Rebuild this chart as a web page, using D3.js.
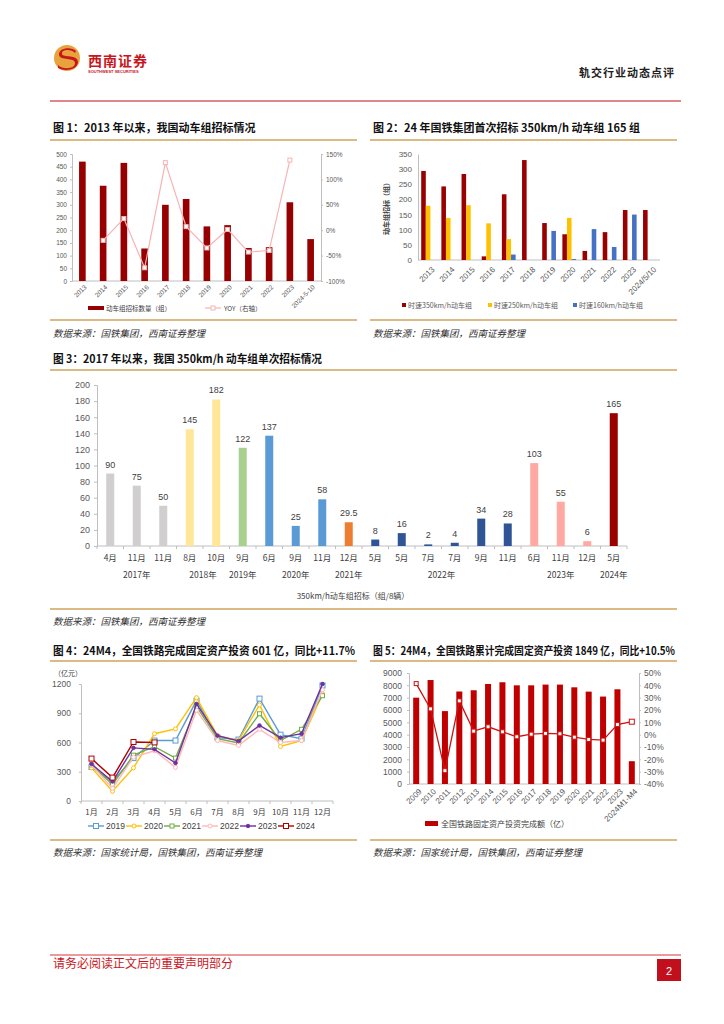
<!DOCTYPE html>
<html>
<head>
<meta charset="utf-8">
<script src="https://cdn.jsdelivr.net/npm/d3@7"></script>
<style>
  body { margin: 0; background: #fff; }
</style>
</head>
<body>
<div id="page"></div>
<script>
// ---- data ----
// fig 1
var years1 = ['2013', '2014', '2015', '2016', '2017', '2018', '2019', '2020', '2021', '2022', '2023', '2024-5-10'];
var emuTotal = [470, 375, 465, 128, 300, 323, 215, 220, 130, 133, 310, 165];
var emuYoy = [null, -20, 23, -74, 133, 7, -35, 1.5, -43, -40, 138, null];
var ticks1Left = [0, 50, 100, 150, 200, 250, 300, 350, 400, 450, 500];
var ticks1Right = [-100, -50, 0, 50, 100, 150];

// fig 2
var years2 = ['2013', '2014', '2015', '2016', '2017', '2018', '2019', '2020', '2021', '2022', '2023', '2024/5/10'];
var speed350 = [294, 243, 284, 12, 217, 330, 122, 85, 30, 92, 165, 165];
var speed250 = [179, 139, 181, 121, 69, 0, 0, 139, 0, 0, 0, 0];
var speed160 = [0, 0, 0, 0, 18, 0, 96, 3, 102, 43, 150, 0];
var seriesNames2 = ['时速350km/h动车组', '时速250km/h动车组', '时速160km/h动车组'];
var ticks2 = [0, 50, 100, 150, 200, 250, 300, 350];

// fig 3
var bidMonths = ['4月', '11月', '11月', '8月', '10月', '9月', '6月', '9月', '11月', '12月', '5月', '5月', '7月', '7月', '9月', '11月', '6月', '11月', '12月', '5月'];
var bidYears = ['2017年', '2017年', '2017年', '2018年', '2018年', '2019年', '2020年', '2020年', '2020年', '2021年',
                '2022年', '2022年', '2022年', '2022年', '2022年', '2022年', '2023年', '2023年', '2023年', '2024年'];
var bidSets = [90, 75, 50, 145, 182, 122, 137, 25, 58, 29.5, 8, 16, 2, 4, 34, 28, 103, 55, 6, 165];
var ticks3 = [0, 20, 40, 60, 80, 100, 120, 140, 160, 180, 200];

// fig 4
var months = ['1月', '2月', '3月', '4月', '5月', '6月', '7月', '8月', '9月', '10月', '11月', '12月'];
var inv2019 = [350, 200, 440, 620, 620, 1030, 650, 630, 1050, 680, 640, 1185];
var inv2020 = [340, 100, 340, 690, 740, 1060, 670, 620, 985, 560, 620, 1100];
var inv2021 = [370, 170, 470, 557, 440, 970, 640, 595, 895, 620, 735, 1080];
var inv2022 = [370, 130, 450, 515, 345, 930, 620, 570, 735, 600, 620, 1140];
var inv2023 = [380, 200, 545, 530, 390, 995, 670, 615, 775, 650, 690, 1200];
var inv2024 = [435, 240, 605, 601];
var ticks4 = [0, 300, 600, 900, 1200];

// fig 5
var years5 = ['2009', '2010', '2011', '2012', '2013', '2014', '2015', '2016', '2017', '2018', '2019', '2020', '2021', '2022', '2023', '2024M1-M4'];
var railInv = [7000, 8430, 5910, 7500, 7600, 8110, 8250, 8000, 8000, 8060, 8060, 7840, 7490, 7090, 7680, 1849];
var railYoy = [41.4, 20.9, -29.2, 27.4, 2.9, 6.4, 2.3, -1.7, 0.4, 1.0, 0.7, -2.0, -3.9, -4.4, 8.2, 10.5];
var ticks5Left = [0, 1000, 2000, 3000, 4000, 5000, 6000, 7000, 8000, 9000];
var ticks5Right = [-40, -30, -20, -10, 0, 10, 20, 30, 40, 50];

// ---- page ----
var CN = '"Noto Sans CJK SC", sans-serif';
var NUM = '"Liberation Sans", Arial, "Noto Sans CJK SC", sans-serif';
var GOLD = '#cfa35a';
var plain = d3.format('d');

var svg = d3.select('#page').append('svg')
    .attr('width', 724)
    .attr('height', 1024)
    .style('background', '#fff');

// header
var logo = svg.append('g').attr('transform', 'translate(67, 58)');
logo.append('circle').attr('r', 13).style('fill', '#e8a33c');
logo.append('path')
    .attr('d', 'M 9,-7 C 4,-12 -9,-10 -8,-3 C -7,3 8,-1 8,5 C 8,11 -4,12 -9,7 L -9,10 C -3,14 11,12 11,4 C 11,-4 -4,0 -5,-4 C -6,-9 5,-9 8,-5 Z')
    .style('fill', '#c8161d');
svg.append('text')
    .attr('x', 88).attr('y', 66)
    .text('西南证券')
    .attr('font-family', CN)
    .attr('font-size', '14px')
    .attr('font-weight', 'bold')
    .attr('letter-spacing', '1px')
    .attr('fill', '#c8161d');
svg.append('text')
    .attr('x', 88).attr('y', 73)
    .text('SOUTHWEST SECURITIES')
    .attr('font-family', NUM)
    .attr('font-size', '4px')
    .attr('font-weight', 'bold')
    .attr('fill', '#c8161d');
svg.append('text')
    .attr('x', 675).attr('y', 77)
    .text('轨交行业动态点评')
    .attr('font-family', CN)
    .attr('font-size', '11px')
    .attr('font-weight', 'bold')
    .attr('letter-spacing', '1px')
    .attr('fill', '#222')
    .style('text-anchor', 'end');
svg.append('line')
    .attr('x1', 50).attr('x2', 681).attr('y1', 101).attr('y2', 101)
    .style('stroke', '#e0878a').style('stroke-width', 2);

// footer
svg.append('line')
    .attr('x1', 50).attr('x2', 681).attr('y1', 955).attr('y2', 955)
    .style('stroke', '#d9343a').style('stroke-width', 1);
svg.append('text')
    .attr('x', 53).attr('y', 968)
    .text('请务必阅读正文后的重要声明部分')
    .attr('font-family', CN)
    .attr('font-size', '12px')
    .attr('fill', '#c8161d');
svg.append('rect')
    .attr('x', 657).attr('y', 959).attr('width', 24).attr('height', 22)
    .style('fill', '#c20f1e');
svg.append('text')
    .attr('x', 669).attr('y', 975)
    .text('2')
    .attr('font-family', NUM)
    .attr('font-size', '11px')
    .attr('fill', '#fff')
    .style('text-anchor', 'middle');

// panel frame: title, gold lines, source note
function panel(x0, x1, titleY, topLine, bottomLine, srcY, title, src, titleLen) {
    var t = svg.append('text')
        .attr('x', x0 + 3).attr('y', titleY)
        .text(title)
        .attr('font-family', CN)
        .attr('font-size', '11px')
        .attr('font-weight', 'bold')
        .attr('fill', '#111');
    if (titleLen) t.attr('textLength', titleLen).attr('lengthAdjust', 'spacingAndGlyphs');
    [topLine, bottomLine].forEach(function(y) {
        svg.append('line')
            .attr('x1', x0).attr('x2', x1).attr('y1', y).attr('y2', y)
            .style('stroke', GOLD).style('stroke-width', 1.5);
    });
    svg.append('text')
        .attr('x', x0 + 3).attr('y', srcY)
        .text(src)
        .attr('font-family', CN)
        .attr('font-size', '9.5px')
        .attr('font-style', 'italic')
        .attr('fill', '#333');
}

function styleAxis(g, size) {
    g.select('.domain').attr('stroke', '#bfbfbf');
    g.selectAll('.tick line').attr('stroke', '#bfbfbf');
    g.selectAll('.tick text')
        .attr('fill', '#595959')
        .attr('font-family', NUM)
        .attr('font-size', size);
}

// x axis line with ticks between categories
function catAxis(x, y, cats, len) {
    svg.append('line')
        .attr('x1', x.range()[0]).attr('x2', x.range()[1]).attr('y1', y).attr('y2', y)
        .style('stroke', '#bfbfbf');
    svg.selectAll(null).data(cats.concat(['__end']))
        .enter().append('line')
        .attr('x1', function(d, i) { return x.range()[0] + i * x.step(); })
        .attr('x2', function(d, i) { return x.range()[0] + i * x.step(); })
        .attr('y1', y).attr('y2', y + len)
        .style('stroke', '#bfbfbf');
}

function rotLabels(x, cats, dx, y, size) {
    svg.selectAll(null).data(cats)
        .enter().append('text')
        .attr('transform', function(d) { return `translate(${x(d) + x.bandwidth() / 2 + dx}, ${y}) rotate(-45)`; })
        .text(function(d) { return d; })
        .attr('font-family', NUM)
        .attr('font-size', size)
        .attr('fill', '#595959')
        .attr('dy', '0.35em')
        .style('text-anchor', 'end');
}

function marker(g, shape, cx, cy, size, color, fill) {
    if (shape === 'square') {
        g.append('rect')
            .attr('x', cx - size / 2).attr('y', cy - size / 2)
            .attr('width', size).attr('height', size)
            .style('fill', fill).style('stroke', color).style('stroke-width', 1);
    } else {
        g.append('circle')
            .attr('cx', cx).attr('cy', cy).attr('r', size / 2)
            .style('fill', fill).style('stroke', color).style('stroke-width', 1);
    }
}

// ---------------- fig 1 ----------------
panel(50, 357, 132, 140, 320, 337, '图 1：2013 年以来，我国动车组招标情况', '数据来源：国铁集团，西南证券整理');

var x1 = d3.scaleBand().domain(years1).range([72, 321]);
var y1 = d3.scaleLinear().domain([0, 500]).range([281, 154]);
var y1r = d3.scaleLinear().domain([-100, 150]).range([281, 154]);

svg.append('g').attr('transform', 'translate(72, 0)')
    .call(d3.axisLeft(y1).tickValues(ticks1Left).tickSize(2).tickPadding(3))
    .call(styleAxis, '6.5px');
svg.append('g').attr('transform', 'translate(321, 0)')
    .call(d3.axisRight(y1r).tickValues(ticks1Right).tickSize(2).tickPadding(3).tickFormat(function(d) { return d + '%'; }))
    .call(styleAxis, '6.5px');
catAxis(x1, 281, years1, 0);

var bw1 = x1.bandwidth() * 0.32;
svg.selectAll(null).data(emuTotal)
    .enter().append('rect')
    .attr('x', function(d, i) { return x1(years1[i]) + x1.bandwidth() / 2 - bw1 / 2; })
    .attr('y', function(d) { return y1(d); })
    .attr('width', bw1)
    .attr('height', function(d) { return 281 - y1(d); })
    .style('fill', '#960000');

var yoyLine = d3.line()
    .defined(function(d) { return d != null; })
    .x(function(d, i) { return x1(years1[i]) + x1.bandwidth() / 2; })
    .y(function(d) { return y1r(d); });
svg.append('path').datum(emuYoy)
    .attr('d', yoyLine)
    .style('fill', 'none').style('stroke', '#f7b3b3').style('stroke-width', 1.2);
var g1m = svg.append('g');
emuYoy.forEach(function(d, i) {
    if (d == null) return;
    marker(g1m, 'square', x1(years1[i]) + x1.bandwidth() / 2, y1r(d), 4, '#f7b3b3', '#fff');
});
rotLabels(x1, years1, 3, 286, '6.5px');

// legend
svg.append('rect').attr('x', 88).attr('y', 306).attr('width', 16).attr('height', 4).style('fill', '#960000');
svg.append('text').attr('x', 106).attr('y', 310.5).text('动车组招标数量（组）')
    .attr('font-family', CN).attr('font-size', '6.5px').attr('fill', '#404040');
svg.append('line').attr('x1', 205).attr('x2', 221).attr('y1', 308).attr('y2', 308)
    .style('stroke', '#f7b3b3').style('stroke-width', 1.2);
marker(svg, 'square', 213, 308, 4, '#f7b3b3', '#fff');
svg.append('text').attr('x', 224).attr('y', 310.5).text('YOY（右轴）')
    .attr('font-family', CN).attr('font-size', '6.5px').attr('fill', '#404040');

// ---------------- fig 2 ----------------
panel(370, 677, 132, 140, 320, 337, '图 2：24 年国铁集团首次招标 350km/h 动车组 165 组', '数据来源：国铁集团，西南证券整理');

var x2 = d3.scaleBand().domain(years2).range([418, 660]);
var y2 = d3.scaleLinear().domain([0, 350]).range([260, 154]);
svg.append('g').attr('transform', 'translate(418, 0)')
    .call(d3.axisLeft(y2).tickValues(ticks2).tickSize(0).tickPadding(6))
    .call(styleAxis, '8px');
catAxis(x2, 260, years2, 0);

var colors2 = ['#990000', '#ffc000', '#4472c4'];
var sub2 = d3.scaleBand().domain([0, 1, 2]).range([0, x2.bandwidth()]).paddingOuter(0.7).paddingInner(0);
[speed350, speed250, speed160].forEach(function(series, s) {
    svg.selectAll(null).data(series)
        .enter().append('rect')
        .attr('x', function(d, i) { return x2(years2[i]) + sub2(s); })
        .attr('y', function(d) { return y2(d); })
        .attr('width', sub2.bandwidth())
        .attr('height', function(d) { return 260 - y2(d); })
        .style('fill', colors2[s]);
});
rotLabels(x2, years2, 5, 268, '8px');
svg.append('text')
    .attr('transform', 'translate(389, 207) rotate(-90)')
    .text('动车组招标（组）')
    .attr('font-family', CN).attr('font-size', '7px').attr('font-weight', 'bold')
    .attr('fill', '#404040').style('text-anchor', 'middle');

var leg2x = [402, 488, 573];
seriesNames2.forEach(function(name, s) {
    svg.append('rect').attr('x', leg2x[s]).attr('y', 303).attr('width', 4).attr('height', 4).style('fill', colors2[s]);
    svg.append('text').attr('x', leg2x[s] + 6).attr('y', 307.5).text(name)
        .attr('font-family', CN).attr('font-size', '7px').attr('fill', '#595959');
});

// ---------------- fig 3 ----------------
panel(50, 677, 363, 370, 609, 625, '图 3：2017 年以来，我国 350km/h 动车组单次招标情况', '数据来源：国铁集团，西南证券整理', 269);

var cats3 = bidMonths.map(function(m, i) { return i; });
var x3 = d3.scaleBand().domain(cats3).range([97, 627]);
var y3 = d3.scaleLinear().domain([0, 200]).range([546, 385]);
svg.append('g').attr('transform', 'translate(97, 0)')
    .call(d3.axisLeft(y3).tickValues(ticks3).tickSize(3).tickPadding(4))
    .call(styleAxis, '9px');
catAxis(x3, 546, cats3, 3);

var yearColor = {
    '2017年': '#d0cece', '2018年': '#ffe699', '2019年': '#a9d18e', '2020年': '#5b9bd5',
    '2021年': '#ed7d31', '2022年': '#2f5597', '2023年': '#ffa9a2', '2024年': '#990000'
};
var bw3 = 8;
svg.selectAll(null).data(bidSets)
    .enter().append('rect')
    .attr('x', function(d, i) { return x3(i) + x3.bandwidth() / 2 - bw3 / 2; })
    .attr('y', function(d) { return y3(d); })
    .attr('width', bw3)
    .attr('height', function(d) { return 546 - y3(d); })
    .style('fill', function(d, i) { return yearColor[bidYears[i]]; });
svg.selectAll(null).data(bidSets)
    .enter().append('text')
    .attr('x', function(d, i) { return x3(i) + x3.bandwidth() / 2; })
    .attr('y', function(d) { return y3(d) - 6; })
    .text(function(d) { return d; })
    .attr('font-family', NUM).attr('font-size', '9px').attr('fill', '#404040')
    .style('text-anchor', 'middle');
svg.selectAll(null).data(bidMonths)
    .enter().append('text')
    .attr('x', function(d, i) { return x3(i) + x3.bandwidth() / 2; })
    .attr('y', 561)
    .text(function(d) { return d; })
    .attr('font-family', CN).attr('font-size', '8.5px').attr('fill', '#404040')
    .style('text-anchor', 'middle');
// year group labels, centred on each group
var groups3 = d3.groups(cats3, function(i) { return bidYears[i]; });
svg.selectAll(null).data(groups3)
    .enter().append('text')
    .attr('x', function(g) { return (x3(g[1][0]) + x3(g[1][g[1].length - 1]) + x3.bandwidth()) / 2; })
    .attr('y', 578)
    .text(function(g) { return g[0]; })
    .attr('font-family', CN).attr('font-size', '8.5px').attr('fill', '#404040')
    .style('text-anchor', 'middle');
svg.append('text')
    .attr('x', 353).attr('y', 599)
    .text('350km/h动车组招标（组/8辆）')
    .attr('font-family', CN).attr('font-size', '8px').attr('fill', '#404040')
    .style('text-anchor', 'middle');

// ---------------- fig 4 ----------------
panel(50, 357, 655, 661, 840, 856, '图 4：24M4，全国铁路完成固定资产投资 601 亿，同比+11.7%', '数据来源：国家统计局，国铁集团，西南证券整理', 302);

var x4 = d3.scaleBand().domain(months).range([81, 333]);
var y4 = d3.scaleLinear().domain([0, 1200]).range([801, 684]);
svg.append('g').attr('transform', 'translate(81, 0)')
    .call(d3.axisLeft(y4).tickValues(ticks4).tickSize(2).tickPadding(8).tickFormat(plain))
    .call(styleAxis, '8.5px');
catAxis(x4, 801, months, 3);
svg.append('text').attr('x', 54).attr('y', 676).text('（亿元）')
    .attr('font-family', CN).attr('font-size', '7px').attr('fill', '#404040');
svg.selectAll(null).data(months)
    .enter().append('text')
    .attr('x', function(d) { return x4(d) + x4.bandwidth() / 2; })
    .attr('y', 815)
    .text(function(d) { return d; })
    .attr('font-family', CN).attr('font-size', '8px').attr('fill', '#404040')
    .style('text-anchor', 'middle');

var series4 = [
    {name: '2019', values: inv2019, color: '#5b9bd5', shape: 'square', size: 5},
    {name: '2020', values: inv2020, color: '#ffc000', shape: 'circle', size: 4},
    {name: '2021', values: inv2021, color: '#70ad47', shape: 'square', size: 4},
    {name: '2022', values: inv2022, color: '#ffb8b8', shape: 'circle', size: 4},
    {name: '2023', values: inv2023, color: '#7030a0', shape: 'circle', size: 3.5},
    {name: '2024', values: inv2024, color: '#b00000', shape: 'square', size: 5}
];
var line4 = d3.line()
    .x(function(d, i) { return x4(months[i]) + x4.bandwidth() / 2; })
    .y(function(d) { return y4(d); });
series4.forEach(function(s) {
    var g = svg.append('g');
    g.append('path').datum(s.values)
        .attr('d', line4)
        .style('fill', 'none').style('stroke', s.color).style('stroke-width', 1.4);
    s.values.forEach(function(v, i) {
        marker(g, s.shape, x4(months[i]) + x4.bandwidth() / 2, y4(v), s.size, s.color, s.name === '2023' ? s.color : '#fff');
    });
});
series4.forEach(function(s, k) {
    var lx = 88 + k * 38;
    svg.append('line').attr('x1', lx).attr('x2', lx + 16).attr('y1', 826).attr('y2', 826)
        .style('stroke', s.color).style('stroke-width', 1.4);
    marker(svg, s.shape, lx + 8, 826, s.size, s.color, s.name === '2023' ? s.color : '#fff');
    svg.append('text').attr('x', lx + 18).attr('y', 829).text(s.name)
        .attr('font-family', NUM).attr('font-size', '8.5px').attr('fill', '#404040');
});

// ---------------- fig 5 ----------------
panel(370, 677, 655, 661, 840, 856, '图 5：24M4，全国铁路累计完成固定资产投资 1849 亿，同比+10.5%', '数据来源：国家统计局，国铁集团，西南证券整理', 302);

var x5 = d3.scaleBand().domain(years5).range([409, 639]);
var y5 = d3.scaleLinear().domain([0, 9000]).range([784, 673]);
var y5r = d3.scaleLinear().domain([-40, 50]).range([784, 673]);
svg.append('g').attr('transform', 'translate(409, 0)')
    .call(d3.axisLeft(y5).tickValues(ticks5Left).tickSize(2).tickPadding(5).tickFormat(plain))
    .call(styleAxis, '8.5px');
svg.append('g').attr('transform', 'translate(639, 0)')
    .call(d3.axisRight(y5r).tickValues(ticks5Right).tickSize(2).tickPadding(3).tickFormat(function(d) { return d + '%'; }))
    .call(styleAxis, '8.5px');
catAxis(x5, 784, years5, 0);

var bw5 = 6;
svg.selectAll(null).data(railInv)
    .enter().append('rect')
    .attr('x', function(d, i) { return x5(years5[i]) + x5.bandwidth() / 2 - bw5 / 2; })
    .attr('y', function(d) { return y5(d); })
    .attr('width', bw5)
    .attr('height', function(d) { return 784 - y5(d); })
    .style('fill', '#c00000');
var line5 = d3.line()
    .x(function(d, i) { return x5(years5[i]) + x5.bandwidth() / 2; })
    .y(function(d) { return y5r(d); });
svg.append('path').datum(railYoy)
    .attr('d', line5)
    .style('fill', 'none').style('stroke', '#d01010').style('stroke-width', 1.3);
var g5m = svg.append('g');
railYoy.forEach(function(v, i) {
    marker(g5m, 'square', x5(years5[i]) + x5.bandwidth() / 2, y5r(v), i === railYoy.length - 1 ? 5 : 4, '#d01010', '#fff');
});
rotLabels(x5, years5, 4, 790, '8px');
svg.append('rect').attr('x', 425).attr('y', 821).attr('width', 13).attr('height', 5).style('fill', '#c00000');
svg.append('text').attr('x', 441).attr('y', 826.5).text('全国铁路固定资产投资完成额（亿）')
    .attr('font-family', CN).attr('font-size', '8px').attr('fill', '#404040');
</script>
</body>
</html>
